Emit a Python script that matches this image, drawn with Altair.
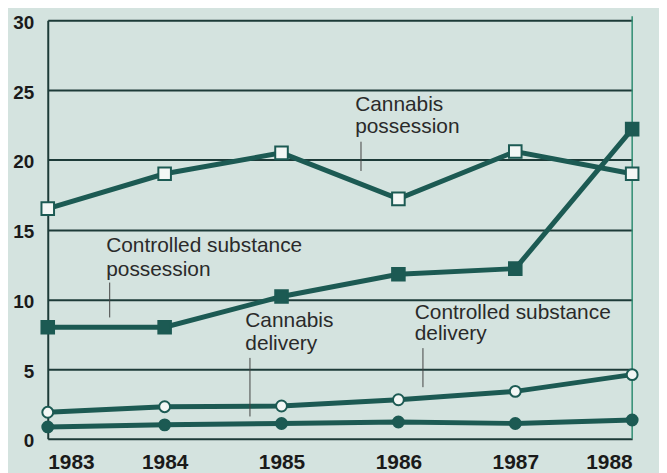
import altair as alt
import pandas as pd

# ---- data ----
years = [1983, 1984, 1985, 1986, 1987, 1988]
cannabis_possession = [16.5, 19.0, 20.5, 17.2, 20.6, 19.0]
cs_possession = [8.0, 8.0, 10.2, 11.8, 12.2, 22.2]
cs_delivery = [1.9, 2.3, 2.35, 2.8, 3.4, 4.6]
cannabis_delivery = [0.85, 1.0, 1.1, 1.2, 1.1, 1.35]

series_names = ["Cannabis possession", "Controlled substance possession",
                "Controlled substance delivery", "Cannabis delivery"]
series_values = [cannabis_possession, cs_possession, cs_delivery, cannabis_delivery]

# annotation text lines (label, x position in years, y position in value units)
label_lines = ["Cannabis", "possession",
               "Controlled substance", "possession",
               "Cannabis", "delivery",
               "Controlled substance", "delivery"]
label_x = [1985.63, 1985.63, 1983.50, 1983.50, 1984.69, 1984.69, 1986.14, 1986.14]
label_y = [23.5, 21.9, 13.4, 11.7, 8.0, 6.35, 8.6, 7.05]

pointer_x = [1985.68, 1983.53, 1984.73, 1986.21]
pointer_y1 = [21.3, 11.2, 5.8, 6.5]
pointer_y2 = [19.2, 8.7, 1.6, 3.7]

# ---- styles ----
BG = "#d4e3df"
LINE = "#1c5a53"
GRID = "#1d3b38"
OPEN_FILL = "#f3f7f5"
TEXT = "#2a2a2a"
BORDER = "#2f8c72"

marker_shape = {"Cannabis possession": "square", "Controlled substance possession": "square",
                "Controlled substance delivery": "circle", "Cannabis delivery": "circle"}
marker_fill = {"Cannabis possession": OPEN_FILL, "Controlled substance possession": LINE,
               "Controlled substance delivery": OPEN_FILL, "Cannabis delivery": LINE}
marker_size = {"square": 160, "circle": 120}

rows = []
for name, vals in zip(series_names, series_values):
    for yr, v in zip(years, vals):
        shp = marker_shape[name]
        rows.append({"series": name, "year": yr, "value": v, "shape": shp,
                     "fill": marker_fill[name], "size": marker_size[shp]})
df = pd.DataFrame(rows)

labels_df = pd.DataFrame({"text": label_lines, "x": label_x, "y": label_y})
pointers_df = pd.DataFrame({"x": pointer_x, "y": pointer_y1, "y2": pointer_y2})
border_df = pd.DataFrame({"x": [years[-1]], "y": [0], "y2": [30.3]})

xscale = alt.Scale(domain=[1983, 1988], nice=False, zero=False)
yscale = alt.Scale(domain=[0, 30], nice=False)

x_enc = alt.X("year:Q", scale=xscale,
              axis=alt.Axis(values=years, format="d", title=None, grid=False,
                            domain=False, ticks=False, labelPadding=13,
                            labelFont="Liberation Sans", labelFontWeight="bold",
                            labelFontSize=21, labelColor="#1a1a1a"))
y_enc = alt.Y("value:Q", scale=yscale,
              axis=alt.Axis(values=[0, 5, 10, 15, 20, 25, 30], title=None,
                            grid=True, gridColor=GRID, gridWidth=2, gridOpacity=1,
                            domain=True, domainColor=GRID, domainWidth=2,
                            ticks=False, labelPadding=14, labelOffset=2,
                            labelFont="Liberation Sans", labelFontWeight="bold",
                            labelFontSize=19, labelColor="#1a1a1a"))

lines = alt.Chart(df).mark_line(color=LINE, strokeWidth=5).encode(
    x=x_enc, y=y_enc, detail="series:N")

points = alt.Chart(df).mark_point(filled=True, stroke=LINE, strokeWidth=2, opacity=1).encode(
    x="year:Q", y="value:Q",
    shape=alt.Shape("shape:N", scale=None),
    fill=alt.Fill("fill:N", scale=None),
    size=alt.Size("size:Q", scale=None))

border = alt.Chart(border_df).mark_rule(color=BORDER, strokeWidth=1.5).encode(
    x="x:Q", y="y:Q", y2="y2:Q")

pointers = alt.Chart(pointers_df).mark_rule(color="#444444", strokeWidth=1).encode(
    x="x:Q", y="y:Q", y2="y2:Q")

labels = alt.Chart(labels_df).mark_text(
    align="left", baseline="alphabetic", font="Liberation Sans",
    fontSize=21, color=TEXT).encode(x="x:Q", y="y:Q", text="text:N")

chart = alt.layer(border, lines, points, pointers, labels).properties(
    width=588, height=421,
    autosize=alt.AutoSizeParams(type="none"),
    padding={"left": 40, "top": 11, "right": 27, "bottom": 36},
    background=BG,
).configure_view(stroke=None)

chart.save("out.html", embed_options={"renderer": "svg", "actions": False})
